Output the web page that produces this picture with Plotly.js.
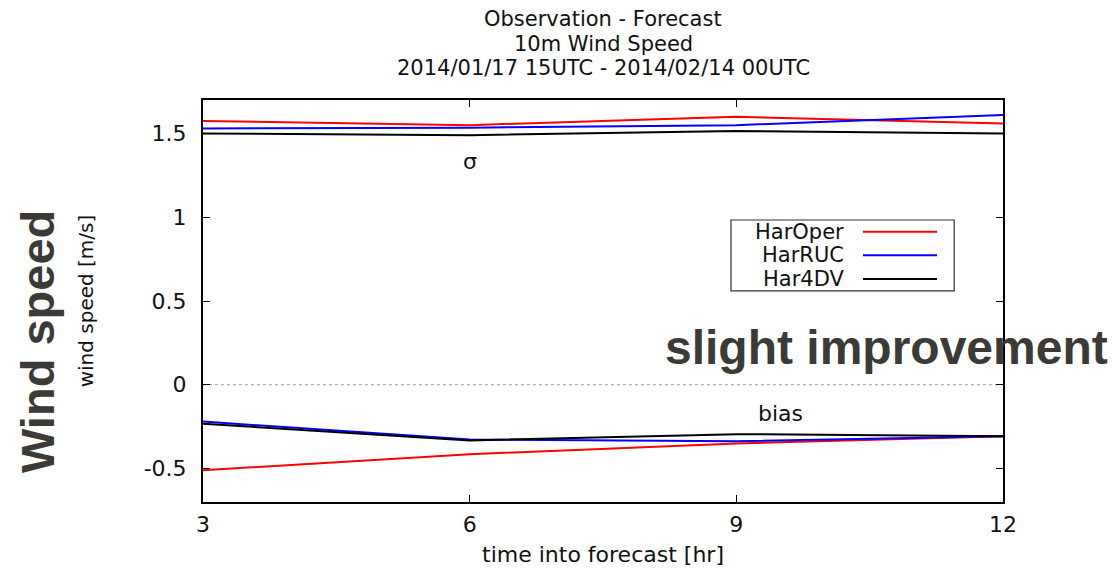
<!DOCTYPE html>
<html>
<head>
<meta charset="utf-8">
<script src="https://cdn.plot.ly/plotly-3.0.1.min.js"></script>
<style>html,body{margin:0;padding:0;background:#fff;}#chart{width:1116px;height:575px;}</style>
</head>
<body>
<div id="chart"></div>
<script>
// ---- data ----
const leadHours = [3, 6, 9, 12];
const xTickLabels = ['3', '6', '9', '12'];
const yTickValues = [-0.5, 0, 0.5, 1, 1.5];
const yTickLabels = ['-0.5', '0', '0.5', '1', '1.5'];

const seriesNames = ['HarOper', 'HarRUC', 'Har4DV'];
const seriesColors = ['#ff0000', '#0000ff', '#000000'];

// standard deviation (sigma) of observation - forecast
const sigmaHarOper = [1.575, 1.550, 1.600, 1.560];
const sigmaHarRUC  = [1.530, 1.535, 1.550, 1.610];
const sigmaHar4DV  = [1.500, 1.490, 1.515, 1.500];

// bias of observation - forecast
const biasHarOper = [-0.510, -0.415, -0.350, -0.307];
const biasHarRUC  = [-0.220, -0.327, -0.337, -0.307];
const biasHar4DV  = [-0.233, -0.333, -0.295, -0.307];

const sigmaSeries = [sigmaHarOper, sigmaHarRUC, sigmaHar4DV];
const biasSeries = [biasHarOper, biasHarRUC, biasHar4DV];

const titleLines = ['Observation - Forecast', '10m Wind Speed', '2014/01/17 15UTC - 2014/02/14 00UTC'];

// ---- build traces ----
const traces = [];
seriesNames.forEach((name, i) => {
  traces.push({x: leadHours, y: sigmaSeries[i], type: 'scatter', mode: 'lines', name: name,
    line: {color: seriesColors[i], width: 2}, showlegend: false, hoverinfo: 'x+y+name'});
  traces.push({x: leadHours, y: biasSeries[i], type: 'scatter', mode: 'lines', name: name,
    line: {color: seriesColors[i], width: 2}, showlegend: false, hoverinfo: 'x+y+name'});
});

const gnuFont = 'DejaVu Sans, sans-serif';
const annotations = [];
const titleY = [1.2015, 1.1405, 1.0796];
titleLines.forEach((t, i) => annotations.push({text: t, xref: 'paper', yref: 'paper', x: 0.5, y: titleY[i],
  xanchor: 'center', yanchor: 'middle', showarrow: false, borderpad: 0,
  font: {family: gnuFont, size: 21, color: '#111'}}));

annotations.push({text: 'σ', xref: 'x', yref: 'y', x: 6, y: 1.33, showarrow: false,
  xanchor: 'center', yanchor: 'middle', font: {family: gnuFont, size: 22, color: '#111'}});
annotations.push({text: 'bias', xref: 'x', yref: 'y', x: 9.5, y: -0.17, showarrow: false,
  xanchor: 'center', yanchor: 'middle', font: {family: gnuFont, size: 22, color: '#111'}});

// manual gnuplot-style legend (text then line sample)
const legRowY = [0.672, 0.614, 0.555];
const shapes = [];
seriesNames.forEach((name, i) => {
  annotations.push({text: name, xref: 'paper', yref: 'paper', x: 0.8025, y: legRowY[i], xanchor: 'right',
    yanchor: 'middle', showarrow: false, borderpad: 0, font: {family: gnuFont, size: 21, color: '#111'}});
  shapes.push({type: 'line', xref: 'paper', yref: 'paper', x0: 0.825, x1: 0.9175, y0: legRowY[i], y1: legRowY[i],
    line: {color: seriesColors[i], width: 2}});
});
shapes.push({type: 'rect', xref: 'paper', yref: 'paper', x0: 0.66, x1: 0.939, y0: 0.525, y1: 0.7015,
  line: {color: '#333', width: 1.2}, fillcolor: 'rgba(0,0,0,0)'});
// dotted zero line
shapes.push({type: 'line', xref: 'paper', yref: 'y', x0: 0, x1: 1, y0: 0, y1: 0,
  line: {color: '#999', width: 1, dash: 'dot'}, layer: 'below'});

// slide overlay texts
annotations.push({text: '<b>slight improvement</b>', xref: 'paper', yref: 'paper', x: 0.854, y: 0.384,
  xanchor: 'center', yanchor: 'middle', showarrow: false,
  font: {family: 'Liberation Sans, Arial, sans-serif', size: 48, color: '#3b3a36'}});
annotations.push({text: '<b>Wind speed</b>', xref: 'paper', yref: 'paper', x: -0.2069, y: 0.399,
  xanchor: 'center', yanchor: 'middle', textangle: -90, showarrow: false,
  font: {family: 'Liberation Sans, Arial, sans-serif', size: 47, color: '#3b3a36'}});

const layout = {
  width: 1116, height: 575,
  margin: {l: 203, r: 113, t: 100, b: 73, pad: 0},
  paper_bgcolor: '#fff', plot_bgcolor: '#fff',
  showlegend: false,
  xaxis: {
    range: [3, 12], tickvals: leadHours, ticktext: xTickLabels,
    showgrid: false, zeroline: false, showline: true, linecolor: '#000', linewidth: 2,
    mirror: 'ticks', ticks: 'inside', ticklen: 7, tickcolor: '#000', tickwidth: 1,
    tickfont: {family: gnuFont, size: 22, color: '#111'}, ticklabelstandoff: 2,
    title: {text: 'time into forecast [hr]', font: {family: gnuFont, size: 22, color: '#111'}, standoff: 10}
  },
  yaxis: {
    range: [-0.7, 1.7], tickvals: yTickValues, ticktext: yTickLabels,
    showgrid: false, zeroline: false, showline: true, linecolor: '#000', linewidth: 2,
    mirror: 'ticks', ticks: 'inside', ticklen: 7, tickcolor: '#000', tickwidth: 1,
    tickfont: {family: gnuFont, size: 22, color: '#111'}, ticklabelstandoff: 10,
    title: {text: 'wind speed [m/s]', font: {family: gnuFont, size: 20, color: '#111'}, standoff: 45}
  },
  annotations: annotations,
  shapes: shapes
};

Plotly.newPlot('chart', traces, layout, {displayModeBar: false, staticPlot: true});
</script>
</body>
</html>
